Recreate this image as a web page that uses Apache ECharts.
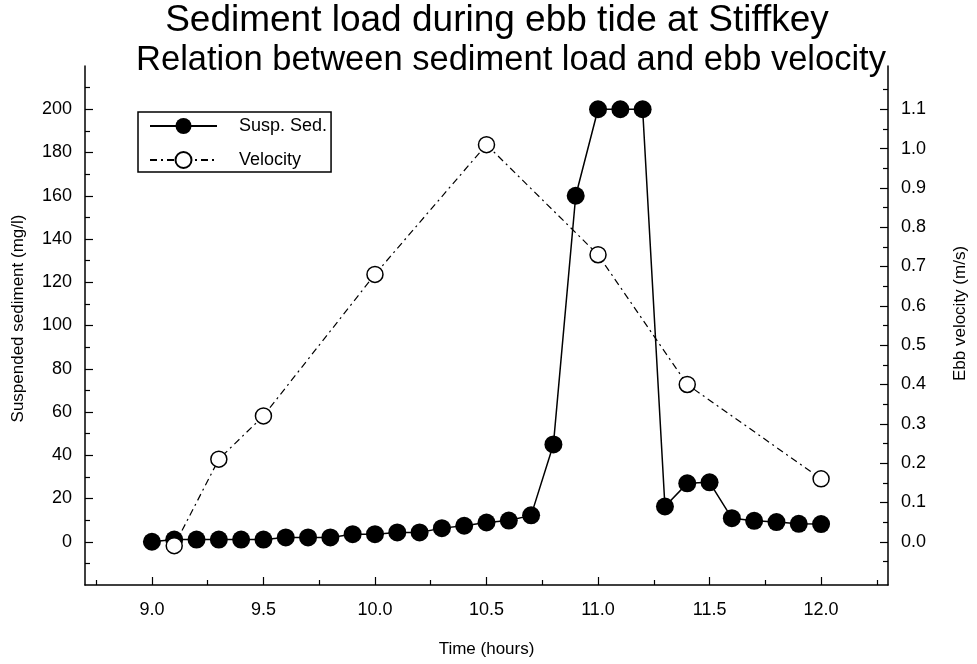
<!DOCTYPE html>
<html>
<head>
<meta charset="utf-8">
<title>Sediment load during ebb tide at Stiffkey</title>
<script src="https://cdn.jsdelivr.net/npm/echarts@6/dist/echarts.min.js"></script>
<style>
  html, body { margin: 0; padding: 0; background: #fff; overflow: hidden; }
  #chart { width: 977px; height: 664px; }
</style>
</head>
<body>
<div id="chart"></div>
<script>
// Sampling times (hours) for suspended sediment, every 0.1 h
const hours = [9.0, 9.1, 9.2, 9.3, 9.4, 9.5, 9.6, 9.7, 9.8, 9.9,
               10.0, 10.1, 10.2, 10.3, 10.4, 10.5, 10.6, 10.7, 10.8, 10.9,
               11.0, 11.1, 11.2, 11.3, 11.4, 11.5, 11.6, 11.7, 11.8, 11.9, 12.0];
// Suspended sediment (mg/l)
const suspSed = [0, 1, 1, 1, 1, 1, 2, 2, 2, 3.5,
                 3.5, 4.3, 4.3, 6.3, 7.4, 8.9, 9.8, 12.2, 45, 160,
                 200, 200, 200, 16.3, 27, 27.5, 10.9, 9.7, 9.1, 8.3, 8.2];
// Current meter readings
const velHours = [9.1, 9.3, 9.5, 10.0, 10.5, 11.0, 11.4, 12.0];
// Ebb velocity (m/s)
const velocity = [-0.01, 0.21, 0.32, 0.68, 1.01, 0.73, 0.40, 0.16];

// Tick positions and labels
const timeLabels = [9.0, 9.5, 10.0, 10.5, 11.0, 11.5, 12.0];
const timeMinorTicks = [8.75, 9.25, 9.75, 10.25, 10.75, 11.25, 11.75, 12.25];
const sedLabels = [0, 20, 40, 60, 80, 100, 120, 140, 160, 180, 200];
const sedMinorTicks = [-10, 10, 30, 50, 70, 90, 110, 130, 150, 170, 190, 210];
const velLabels = [0.0, 0.1, 0.2, 0.3, 0.4, 0.5, 0.6, 0.7, 0.8, 0.9, 1.0, 1.1];
const velMinorTicks = [-0.05, 0.05, 0.15, 0.25, 0.35, 0.45, 0.55, 0.65, 0.75, 0.85, 0.95, 1.05, 1.15];

const FONT = "'Liberation Sans', Arial, sans-serif";
const SED_MIN = -20, SED_MAX = 220;
// right scale aligned so that 200 mg/l sits level with 1.1 m/s
const VEL_MIN = SED_MIN * 1.1 / 200, VEL_MAX = SED_MAX * 1.1 / 200;

const chart = echarts.init(document.getElementById('chart'), null, { renderer: 'canvas', width: 977, height: 664 });

const axisLineStyle = { show: true, onZero: false, lineStyle: { color: '#000', width: 1.5 } };
const labelStyle = { color: '#000', fontFamily: FONT, fontSize: 18 };
const nameStyle = { color: '#000', fontFamily: FONT, fontSize: 17 };
const majorTick = { color: '#000', width: 1.2 };

chart.setOption({
  backgroundColor: '#fff',
  animation: false,
  title: [
    {
      text: 'Sediment load during ebb tide at Stiffkey',
      left: 497, top: 2, textAlign: 'center', padding: 0,
      textStyle: { fontFamily: FONT, fontSize: 37, fontWeight: 'normal', color: '#000' }
    },
    {
      text: 'Relation between sediment load and ebb velocity',
      left: 511, top: 43, textAlign: 'center', padding: 0,
      textStyle: { fontFamily: FONT, fontSize: 34.5, fontWeight: 'normal', color: '#000' }
    }
  ],
  legend: {
    orient: 'vertical',
    left: 138, top: 112,
    padding: [5, 4, 3, 11],
    itemWidth: 67, itemHeight: 20, itemGap: 16,
    borderColor: '#000', borderWidth: 1.5, borderRadius: 0,
    backgroundColor: '#fff',
    textStyle: { color: '#000', fontFamily: FONT, fontSize: 18, padding: [0, 0, 0, 17] },
    data: ['Susp. Sed.', 'Velocity']
  },
  grid: { left: 85, top: 66, width: 807, height: 519, containLabel: false },
  xAxis: [
    {
      type: 'value', min: 8.7, max: 12.3,
      name: 'Time (hours)', nameLocation: 'middle', nameGap: 56,
      nameTextStyle: nameStyle,
      axisLine: axisLineStyle,
      axisTick: { show: true, inside: true, length: 8, customValues: timeLabels, lineStyle: majorTick },
      axisLabel: { show: true, customValues: timeLabels, margin: 16, formatter: v => v.toFixed(1), ...labelStyle },
      splitLine: { show: false }
    },
    {
      type: 'value', min: 8.7, max: 12.3, position: 'bottom',
      axisLine: { show: false, onZero: false },
      axisTick: { show: true, inside: true, length: 5, customValues: timeMinorTicks, lineStyle: majorTick },
      axisLabel: { show: false },
      splitLine: { show: false }
    }
  ],
  yAxis: [
    {
      type: 'value', min: SED_MIN, max: SED_MAX, position: 'left',
      name: 'Suspended sediment (mg/l)', nameLocation: 'middle', nameGap: 58, nameRotate: 90,
      nameTextStyle: { ...nameStyle, padding: [0, 0, 0, 14] },
      axisLine: axisLineStyle,
      axisTick: { show: true, inside: true, length: 8, customValues: sedLabels, lineStyle: majorTick },
      axisLabel: { show: true, customValues: sedLabels, margin: 13, ...labelStyle },
      splitLine: { show: false }
    },
    {
      type: 'value', min: SED_MIN, max: SED_MAX, position: 'left',
      axisLine: { show: false, onZero: false },
      axisTick: { show: true, inside: true, length: 5, customValues: sedMinorTicks, lineStyle: majorTick },
      axisLabel: { show: false },
      splitLine: { show: false }
    },
    {
      type: 'value', min: VEL_MIN, max: VEL_MAX, position: 'right',
      name: 'Ebb velocity (m/s)', nameLocation: 'middle', nameGap: 64, nameRotate: 90,
      nameTextStyle: { ...nameStyle, padding: [0, 0, 0, 24] },
      axisLine: axisLineStyle,
      axisTick: { show: true, inside: true, length: 8, customValues: velLabels, lineStyle: majorTick },
      axisLabel: { show: true, customValues: velLabels, margin: 13, formatter: v => v.toFixed(1), ...labelStyle },
      splitLine: { show: false }
    },
    {
      type: 'value', min: VEL_MIN, max: VEL_MAX, position: 'right',
      axisLine: { show: false, onZero: false },
      axisTick: { show: true, inside: true, length: 5, customValues: velMinorTicks, lineStyle: majorTick },
      axisLabel: { show: false },
      splitLine: { show: false }
    }
  ],
  series: [
    {
      name: 'Susp. Sed.', type: 'line', xAxisIndex: 0, yAxisIndex: 0,
      data: hours.map((h, i) => [h, suspSed[i]]),
      symbol: 'circle', symbolSize: 18,
      lineStyle: { color: '#000', width: 1.5 },
      itemStyle: { color: '#000', borderColor: '#000', borderWidth: 0 },
      z: 2
    },
    {
      name: 'Velocity', type: 'line', xAxisIndex: 0, yAxisIndex: 2,
      data: velHours.map((h, i) => [h, velocity[i]]),
      symbol: 'circle', symbolSize: 16,
      lineStyle: { color: '#000', width: 1.2, type: [7, 4, 2, 4] },
      itemStyle: { color: '#fff', borderColor: '#000', borderWidth: 1.5 },
      z: 3
    }
  ]
});
</script>
</body>
</html>
